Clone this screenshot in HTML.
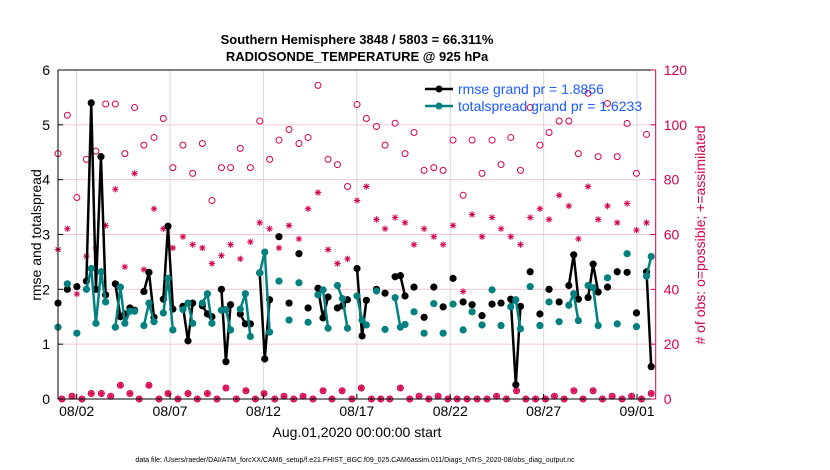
<!DOCTYPE html>
<html><head><meta charset="utf-8"><style>
body{margin:0;background:#fff;}
svg{display:block;font-family:"Liberation Sans",Arial,sans-serif;}
</style></head><body>
<svg id="chart" width="830" height="470" viewBox="0 0 830 470" xmlns="http://www.w3.org/2000/svg">
<rect x="0" y="0" width="830" height="470" fill="#fff"/>
<text x="357" y="44" text-anchor="middle" font-size="13" font-weight="bold">Southern Hemisphere 3848 / 5803 = 66.311%</text>
<text x="357" y="61" text-anchor="middle" font-size="13" font-weight="bold">RADIOSONDE_TEMPERATURE @ 925 hPa</text>
<g id="grid"></g>
<g id="marks"></g>
<g id="axes"></g>
<text transform="translate(41,235) rotate(-90)" text-anchor="middle" font-size="14">rmse and totalspread</text>
<text transform="translate(705,235) rotate(-90)" text-anchor="middle" font-size="14" fill="#d6004f"># of obs: o=possible; +=assimilated</text>
<text x="357" y="437" text-anchor="middle" font-size="14">Aug.01,2020 00:00:00 start</text>
<text x="355" y="462" text-anchor="middle" font-size="7">data file: /Users/raeder/DAI/ATM_forcXX/CAM6_setup/f.e21.FHIST_BGC.f09_025.CAM6assim.011/Diags_NTrS_2020-08/obs_diag_output.nc</text>
<g>
<line x1="425" y1="89" x2="453" y2="89" stroke="#000" stroke-width="2.5"/>
<circle cx="439" cy="89" r="3.5" fill="#000"/>
<text x="458" y="94" font-size="14" fill="#1a5cff">rmse grand pr = 1.8856</text>
<line x1="425" y1="106" x2="453" y2="106" stroke="#008080" stroke-width="2.5"/>
<circle cx="439" cy="106" r="3.5" fill="#008080"/>
<text x="458" y="111" font-size="14" fill="#1a5cff">totalspread grand pr = 1.6233</text>
</g>
</svg>
<script>
const modelDays=[0.00,0.50,1.01,1.52,1.78,2.03,2.30,2.55,3.07,3.34,3.58,3.85,4.10,4.60,4.87,5.14,5.64,5.89,6.15,6.69,6.96,7.21,7.73,8.00,8.24,8.75,8.99,9.24,9.76,10.03,10.30,10.80,11.07,11.33,11.83,12.37,12.90,13.39,13.92,14.19,14.46,14.96,15.23,15.50,16.01,16.28,16.51,17.05,17.51,18.05,18.33,18.58,19.06,19.60,20.12,20.62,21.15,21.69,22.17,22.70,23.24,23.72,24.24,24.51,24.76,25.28,25.80,26.29,26.83,27.35,27.61,27.86,28.38,28.65,28.92,29.42,29.94,30.47,30.97,31.51,31.76];
const rmse=[1.75,2.0,2.05,2.15,5.4,2.0,4.42,1.9,2.1,1.5,1.55,1.66,1.62,1.96,2.31,1.49,1.82,3.15,1.64,1.69,1.06,1.75,1.7,1.55,1.5,2.0,0.68,1.72,1.55,1.37,1.37,2.3,0.73,1.81,2.96,1.75,2.65,1.66,2.02,1.48,1.86,1.66,1.7,1.81,2.38,1.15,1.8,2.0,1.93,2.23,2.25,1.88,2.04,1.49,2.04,1.68,2.2,1.77,1.72,1.52,1.73,1.75,1.82,0.26,1.69,2.32,1.55,2.0,1.77,2.07,2.63,1.82,1.85,2.46,1.95,2.04,2.32,2.31,1.57,2.32,0.59];
const spread=[1.31,2.1,1.2,2.0,2.38,1.38,2.32,1.77,1.31,2.04,1.38,1.6,1.6,1.34,1.75,1.41,1.57,2.2,1.26,1.63,1.75,1.38,1.75,1.92,1.38,1.62,1.63,1.26,1.64,1.92,1.14,2.3,2.68,1.22,2.15,1.44,2.12,1.4,1.9,1.99,1.29,2.07,1.83,1.29,1.88,1.44,1.35,1.97,1.27,1.85,1.31,1.36,1.59,1.2,1.74,1.2,1.73,1.26,1.59,1.35,1.99,1.34,1.68,1.81,1.28,2.05,1.34,1.77,1.41,1.71,1.92,1.43,2.07,2.03,1.34,2.21,1.37,2.65,1.32,2.24,2.6];
const obsDays=[0.00,0.50,1.01,1.52,2.03,2.55,3.07,3.58,4.10,4.60,5.14,5.64,6.15,6.69,7.21,7.73,8.24,8.75,9.24,9.76,10.30,10.80,11.33,11.83,12.37,12.90,13.39,13.92,14.46,14.96,15.50,16.01,16.51,17.05,17.51,18.05,18.58,19.06,19.60,20.12,20.62,21.15,21.69,22.17,22.70,23.24,23.72,24.24,24.76,25.28,25.80,26.29,26.83,27.35,27.86,28.38,28.92,29.42,29.94,30.47,30.97,31.51];
const possible=[89.5,103.5,73.5,87.4,90.4,107.6,107.6,89.5,106.3,92.6,95.4,102.3,84.4,92.6,82.3,93.2,72.4,84.4,84.4,91.4,84.4,101.4,87.4,94.4,98.3,93.2,95.4,114.4,87.4,85.5,77.5,107.4,102.3,99.4,92.6,100.6,89.5,97.2,83.4,84.4,83.4,94.4,74.3,94.4,82.3,94.4,85.5,95.4,83.4,106.3,92.6,97.2,101.4,101.4,89.5,111.5,88.4,107.8,88.4,100.5,82.3,96.5];
const assimilated=[54.5,62.1,38.3,52.1,55.1,63.3,76.5,48.2,82.3,47.2,69.4,62.1,55.1,59.2,56.3,55.1,49.4,52.3,56.3,51.1,57.3,64.3,62.1,55.1,63.3,58.4,69.4,75.3,54.5,49.4,51.1,72.4,77.5,65.5,62.1,66.2,64.3,56.3,62.1,59.2,56.3,63.3,39.2,67.3,59.2,66.2,62.1,59.2,56.3,66.2,69.4,65.5,74.3,70.4,58.4,77.5,65.5,70.4,64.3,71.3,61.6,64.3];
const lowDays=[0.21,0.75,1.28,1.78,2.32,2.82,3.34,3.85,4.35,4.87,5.41,5.89,6.42,6.96,7.46,8.00,8.51,8.99,9.55,10.06,10.57,11.03,11.60,12.10,12.62,13.12,13.65,14.19,14.67,15.21,15.74,16.24,16.78,17.28,17.76,18.33,18.83,19.33,19.85,20.35,20.88,21.37,21.90,22.44,22.97,23.48,24.01,24.55,25.05,25.57,26.10,26.58,27.10,27.62,28.11,28.65,29.15,29.67,30.20,30.71,31.24,31.76];
const lowCount=[0,1,0,2,2,1,5,2,0,5,0,2,0,2,0,2,0,4,0,3,0,2,0,1,0,1,0,3,0,3,0,4,0,0,0,4,0,1,0,1,0,0,0,0,0,1,0,3,0,0,0,1,0,3,0,3,0,1,0,1,0,2];
const xTickDays=[1,6,11,16,21,26,31];
const xTickLabels=["08/02","08/07","08/12","08/17","08/22","08/27","09/01"];
const yTicks=[0,1,2,3,4,5,6];
const y2Ticks=[0,20,40,60,80,100,120];

const NS="http://www.w3.org/2000/svg";
const L=58,R=655.7,T=70,B=399,X0=0,X1=32;
const xS=d=>L+(d-X0)/(X1-X0)*(R-L);
const yS=v=>B-v/6*(B-T);
const y2S=n=>B-n/120*(B-T);
function mk(tag,attrs,parent){const e=document.createElementNS(NS,tag);for(const k in attrs)e.setAttribute(k,attrs[k]);parent.appendChild(e);return e;}
const grid=document.getElementById('grid'),marks=document.getElementById('marks'),axes=document.getElementById('axes');

yTicks.forEach(v=>{if(v>0&&v<6){const g=mk('line',{x1:L,x2:R,y1:yS(v),y2:yS(v),stroke:'#f5c6d6','stroke-width':1},grid);

}});
xTickDays.forEach(d=>{const g=mk('line',{x1:xS(d),x2:xS(d),y1:T,y2:B,stroke:'#d8d8d8','stroke-width':1},grid);

});

function star(cx,cy,parent,name){const g=mk('g',{stroke:'#d6004f','stroke-width':1,fill:'none'},parent);


const r=3.2;mk('line',{x1:cx-r,x2:cx+r,y1:cy,y2:cy},g);mk('line',{x1:cx,x2:cx,y1:cy-r,y2:cy+r},g);
const q=r*0.72;mk('line',{x1:cx-q,x2:cx+q,y1:cy-q,y2:cy+q},g);mk('line',{x1:cx-q,x2:cx+q,y1:cy+q,y2:cy-q},g);}

obsDays.forEach((d,i)=>{const c=mk('circle',{cx:xS(d),cy:y2S(possible[i]),r:3,fill:'none',stroke:'#d6004f','stroke-width':1},marks);


star(xS(d),y2S(assimilated[i]),marks,'assimilated-obs-point');});
lowDays.forEach((d,i)=>{const c=mk('circle',{cx:xS(d),cy:y2S(lowCount[i]),r:3,fill:'#f29ab8',stroke:'#d6004f','stroke-width':1},marks);


star(xS(d),y2S(lowCount[i]),marks,'assimilated-obs-low-point');});

function series(vals,color,name){
  let seg=[];const segs=[];
  modelDays.forEach((d,i)=>{if(i>0&&d-modelDays[i-1]>0.35){segs.push(seg);seg=[];}seg.push([xS(d),yS(vals[i])]);});
  segs.push(seg);
  segs.forEach(s=>{if(s.length>1){const p=mk('polyline',{points:s.map(q=>q.join(',')).join(' '),fill:'none',stroke:color,'stroke-width':2.5,'stroke-linejoin':'round'},marks);
  
  }});
  modelDays.forEach((d,i)=>{const c=mk('circle',{cx:xS(d),cy:yS(vals[i]),r:3.6,fill:color},marks);
  
  });
}
series(rmse,'#000','rmse');
series(spread,'#008080','totalspread');

const fr=mk('path',{d:`M${L},${T} H${R} M${L},${T} V${B} H${R}`,stroke:'#000','stroke-width':1,fill:'none'},axes);


const ra=mk('line',{x1:R,x2:R,y1:T,y2:B,stroke:'#d6004f','stroke-width':1},axes);


yTicks.forEach(v=>{mk('line',{x1:L,x2:L+5,y1:yS(v),y2:yS(v),stroke:'#000'},axes);
const t=mk('text',{x:L-8,y:yS(v)+5,'text-anchor':'end','font-size':14},axes);t.textContent=v;

});
y2Ticks.forEach(n=>{mk('line',{x1:R-5,x2:R,y1:y2S(n),y2:y2S(n),stroke:'#d6004f'},axes);
const t=mk('text',{x:R+8,y:y2S(n)+5,'font-size':14,fill:'#d6004f'},axes);t.textContent=n;

});
xTickDays.forEach((d,i)=>{mk('line',{x1:xS(d),x2:xS(d),y1:B,y2:B-5,stroke:'#000'},axes);
const t=mk('text',{x:xS(d),y:B+17,'text-anchor':'middle','font-size':14},axes);t.textContent=xTickLabels[i];

});
</script>
</body></html>
